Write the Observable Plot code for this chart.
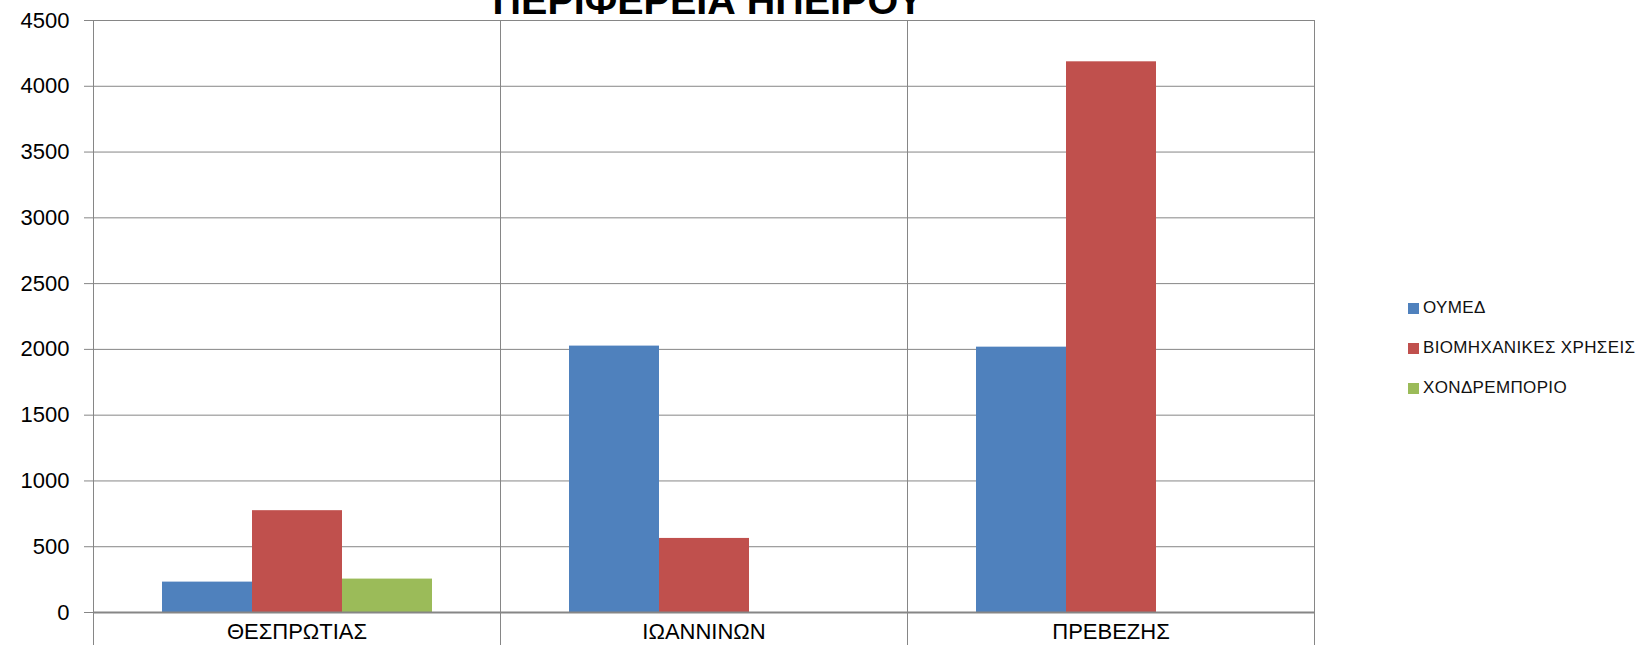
<!DOCTYPE html>
<html>
<head>
<meta charset="utf-8">
<script src="https://cdn.jsdelivr.net/npm/d3@7"></script>
<script src="https://cdn.jsdelivr.net/npm/@observablehq/plot@0.6"></script>
<style>
  html, body { margin: 0; padding: 0; background: #fff; }
  #wrap { position: relative; width: 1642px; height: 645px; overflow: hidden; font-family: "Liberation Sans", Arial, sans-serif; }
  #title { position: absolute; left: 208px; width: 1000px; top: -19px; text-align: center; font-weight: bold; font-size: 39.5px; line-height: 39.5px; color: #000; white-space: nowrap; }
  #legend { position: absolute; left: 1408px; top: 298px; }
  .item { position: absolute; left: 0; height: 20px; display: flex; align-items: center; white-space: nowrap; font-size: 17px; letter-spacing: 0.35px; color: #111; }
  .sw { width: 11px; height: 11px; margin-right: 4px; }
  #chart { position: absolute; left: 0; top: 0; }
</style>
</head>
<body>
<div id="wrap">
  <div id="chart"></div>
  <div id="title"></div>
  <div id="legend"></div>
</div>
<script>
const titleText = "ΠΕΡΙΦΕΡΕΙΑ ΗΠΕΙΡΟΥ";
const categories = ["ΘΕΣΠΡΩΤΙΑΣ", "ΙΩΑΝΝΙΝΩΝ", "ΠΡΕΒΕΖΗΣ"];
const series = ["ΟΥΜΕΔ", "ΒΙΟΜΗΧΑΝΙΚΕΣ ΧΡΗΣΕΙΣ", "ΧΟΝΔΡΕΜΠΟΡΙΟ"];
const oumed = [231, 2025, 2017];
const viomichanikes = [774, 563, 4186];
const chondremporio = [254, 0, 0];
const colors = ["#4F81BD", "#C0504D", "#9BBB59"];
const yTicks = [0, 500, 1000, 1500, 2000, 2500, 3000, 3500, 4000, 4500];

const valuesBySeries = [oumed, viomichanikes, chondremporio];
const table = [];
categories.forEach((c, i) => {
  series.forEach((s, j) => {
    table.push({category: c, series: s, value: valuesBySeries[j][i]});
  });
});

const grid = "#868686";

const chart = Plot.plot({
  width: 1642,
  height: 645,
  marginLeft: 92,
  marginRight: 328,
  marginTop: 20,
  marginBottom: 33,
  style: {fontFamily: "Liberation Sans, Arial, sans-serif", background: "white", color: "black"},
  fx: {domain: categories, padding: 0, label: null},
  x: {domain: series, paddingInner: 0, paddingOuter: 0.755, axis: null},
  y: {domain: [0, 4500], label: null},
  color: {domain: series, range: colors},
  marks: [
    Plot.gridY(yTicks, {stroke: grid, strokeOpacity: 1, strokeWidth: 1}),
    Plot.frame({stroke: grid, strokeWidth: 1, insetBottom: -40}),
    Plot.barY(table, {fx: "category", x: "series", y: "value", fill: "series"}),
    Plot.ruleY([0], {stroke: grid, strokeWidth: 2}),
    Plot.axisY({ticks: yTicks, tickSize: 9, tickPadding: 15, fontSize: 22, stroke: grid, fill: "black", label: null, tickFormat: d => String(d)}),
    Plot.axisFx({anchor: "bottom", tickSize: 0, tickPadding: 11, fontSize: 22, fill: "black", label: null})
  ]
});
document.getElementById("chart").appendChild(chart);

document.getElementById("title").textContent = titleText;

const legend = document.getElementById("legend");
series.forEach((s, j) => {
  const item = document.createElement("div");
  item.className = "item";
  item.style.top = (j * 40) + "px";
  const sw = document.createElement("span");
  sw.className = "sw";
  sw.style.background = colors[j];
  const tx = document.createElement("span");
  tx.textContent = s;
  item.appendChild(sw);
  item.appendChild(tx);
  legend.appendChild(item);
});
</script>
</body>
</html>
